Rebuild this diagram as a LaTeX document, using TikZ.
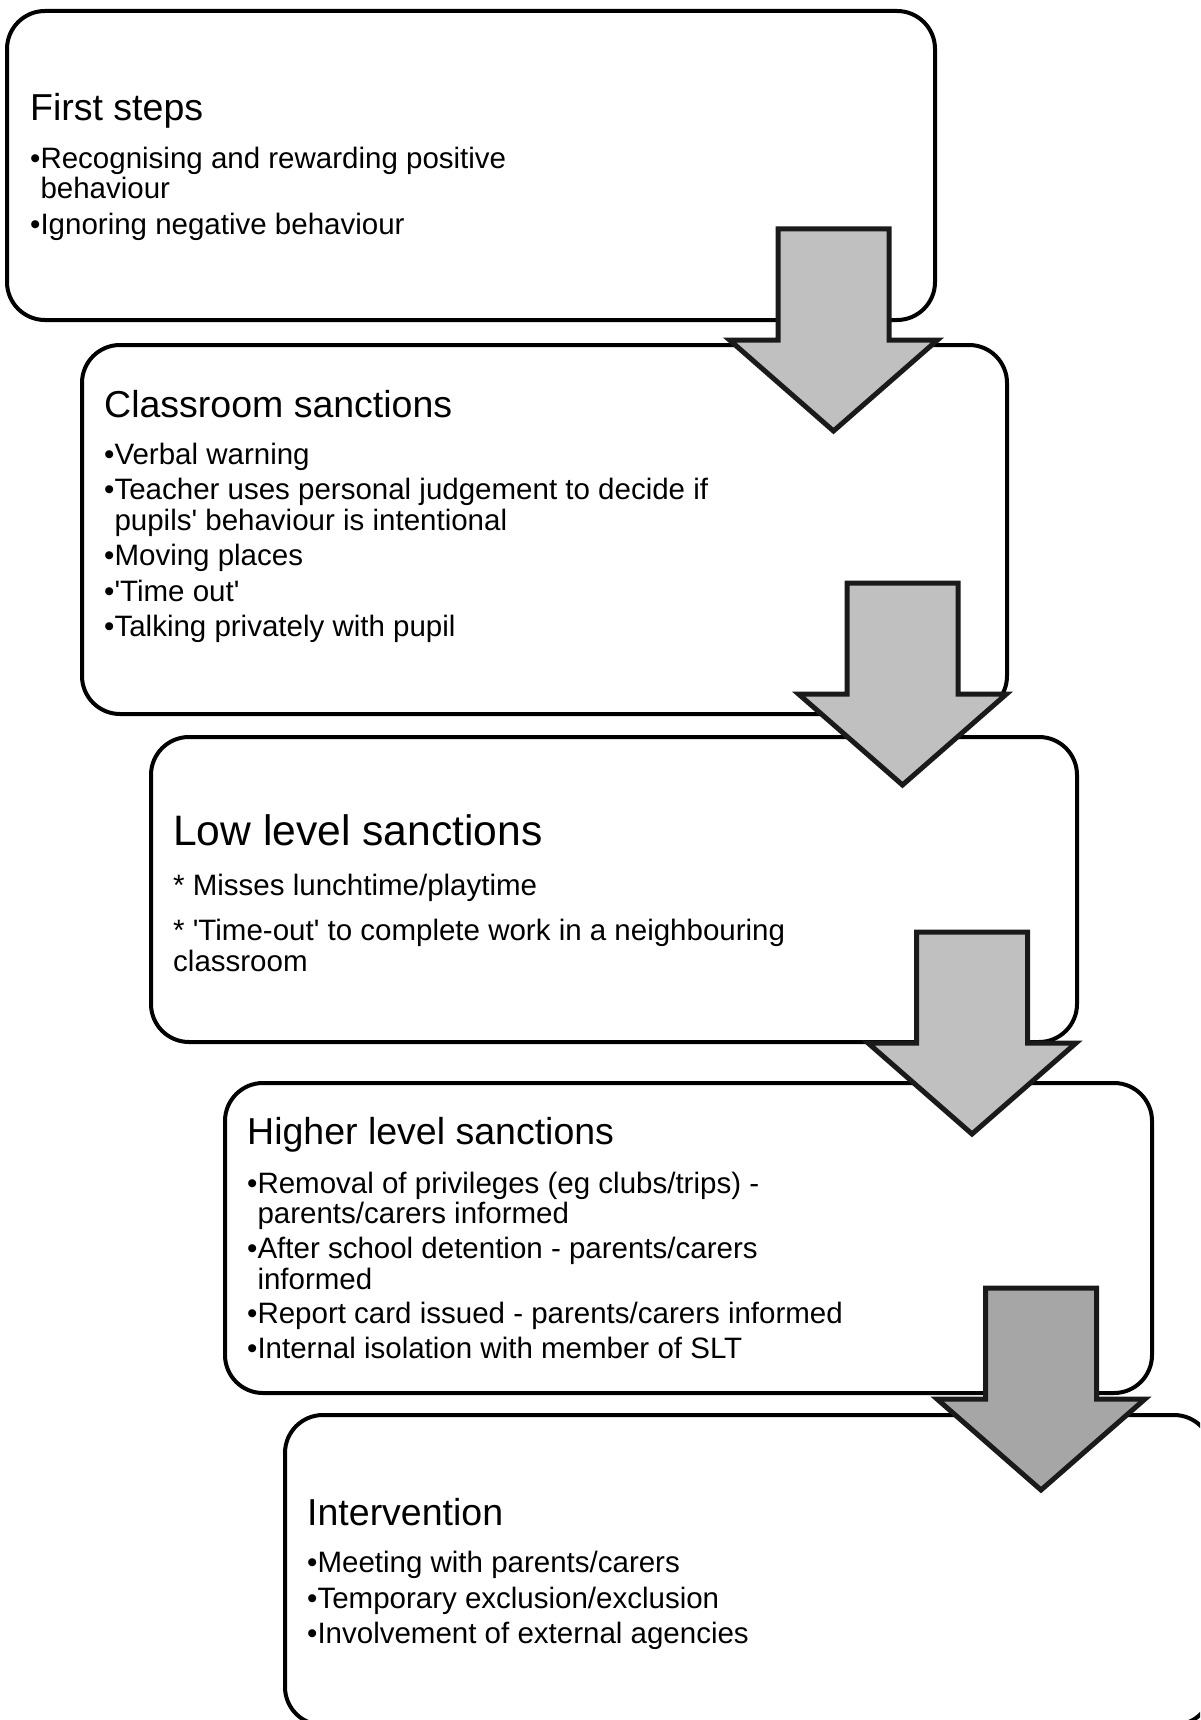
\documentclass[tikz,border=0pt]{standalone}
\usepackage{fontspec}
\setmainfont{Liberation Sans}
\newcommand\sq{\textquotesingle}
\newcommand\flowarrow[3]{% centre x, top y, fill
  \draw[flowarr=#3] (#1-55.5,#2) -- (#1+55.5,#2) -- (#1+55.5,#2+111) -- (#1+104,#2+111)
    -- (#1,#2+202) -- (#1-104,#2+111) -- (#1-55.5,#2+111) -- cycle;}
\definecolor{arrowA}{HTML}{C0C0C0}
\definecolor{arrowB}{HTML}{A6A6A6}
\definecolor{arrowline}{HTML}{1A1A1A}
\begin{document}
\begin{tikzpicture}[x=1pt,y=-1pt,
  stagebox/.style={draw=black, line width=4pt, rounded corners=38pt, fill=white, inner sep=0pt},
  title/.style={anchor=base west, inner sep=0pt, font=\fontsize{37.5}{37.5}\selectfont},
  bigtitle/.style={anchor=base west, inner sep=0pt, font=\fontsize{42.6}{42.6}\selectfont},
  item/.style={anchor=base west, inner sep=0pt, font=\fontsize{29.5}{29.5}\selectfont},
  flowarr/.style={draw=arrowline, line width=5pt, line join=miter, fill=#1}]
\useasboundingbox (0,0) rectangle (1200,1720);
\clip (0,0) rectangle (1200,1720);
% boxes
\node[stagebox, minimum width=928, minimum height=309] (b1) at (471,165.5) {};
\node[stagebox, minimum width=925, minimum height=369] (b2) at (544.5,529.5) {};
\node[stagebox, minimum width=926, minimum height=305] (b3) at (614,889.5) {};
\node[stagebox, minimum width=927, minimum height=310] (b4) at (688.5,1238) {};
\node[stagebox, minimum width=927, minimum height=310] (b5) at (748.5,1570) {};
% box 1
\node[title] (h1) at (30,121) {First steps};
\node[item] (i1a) at (30,169) {•Recognising and rewarding positive};
\node[item] (i1b) at (30,199) {\hphantom{•}behaviour};
\node[item] (i1c) at (30,235) {•Ignoring negative behaviour};
% box 2
\node[title] (h2) at (104,417) {Classroom sanctions};
\node[item] (i2a) at (104,464) {•Verbal warning};
\node[item] (i2b) at (104,499) {•Teacher uses personal judgement to decide if};
\node[item] (i2c) at (104,530) {\hphantom{•}pupils\sq{} behaviour is intentional};
\node[item] (i2d) at (104,565) {•Moving places};
\node[item] (i2e) at (104,601) {•\sq{}Time out\sq};
\node[item] (i2f) at (104,636) {•Talking privately with pupil};
% box 3
\node[bigtitle] (h3) at (173,845) {Low level sanctions};
\node[item] (i3a) at (173,895) {* Misses lunchtime/playtime};
\node[item] (i3b) at (173,940) {* \sq{}Time-out\sq{} to complete work in a neighbouring};
\node[item] (i3c) at (173,971) {classroom};
% box 4
\node[title] (h4) at (247,1144) {Higher level sanctions};
\node[item] (i4a) at (247,1193) {•Removal of privileges (eg clubs/trips) -};
\node[item] (i4b) at (247,1223) {\hphantom{•}parents/carers informed};
\node[item] (i4c) at (247,1258) {•After school detention - parents/carers};
\node[item] (i4d) at (247,1289) {\hphantom{•}informed};
\node[item] (i4e) at (247,1323) {•Report card issued - parents/carers informed};
\node[item] (i4f) at (247,1358) {•Internal isolation with member of SLT};
% box 5
\node[title] (h5) at (307,1525) {Intervention};
\node[item] (i5a) at (307,1572) {•Meeting with parents/carers};
\node[item] (i5b) at (307,1608) {•Temporary exclusion/exclusion};
\node[item] (i5c) at (307,1643) {•Involvement of external agencies};
% arrows
\flowarrow{833.5}{229}{arrowA}
\flowarrow{902.5}{583}{arrowA}
\flowarrow{972}{932}{arrowA}
\flowarrow{1041}{1288}{arrowB}
\end{tikzpicture}
\end{document}
